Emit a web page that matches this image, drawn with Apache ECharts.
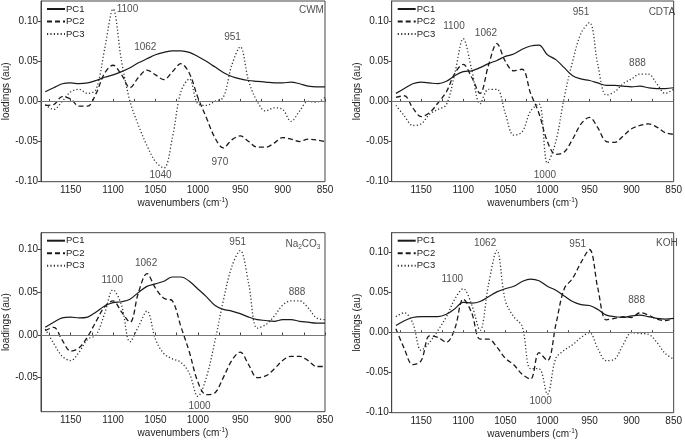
<!DOCTYPE html>
<html><head><meta charset="utf-8">
<script src="https://cdn.jsdelivr.net/npm/echarts@6/dist/echarts.min.js"></script>
<style>html,body{margin:0;padding:0;background:#fff}#c{width:685px;height:441px}</style>
</head><body><div id="c"></div><script>
const wavenumbers = [1180,1170,1160,1150,1140,1130,1120,1110,1100,1090,1080,1070,1060,1050,1040,1030,1020,1010,1000,990,980,970,960,950,940,930,920,910,900,890,880,870,860,850];
const xTickValues = [850,900,950,1000,1050,1100,1150];
const xMinorValues = [850,875,900,925,950,975,1000,1025,1050,1075,1100,1125,1150,1175];
const yTickValuesFull = [-0.10,-0.05,0,0.05,0.10];
const yTickValuesNa = [-0.05,0,0.05,0.10];
const seriesNames = ['PC1','PC2','PC3'];

// CWM
const cwmPC1 = [0.012,0.017,0.022,0.023,0.022,0.023,0.026,0.030,0.033,0.037,0.042,0.048,0.053,0.058,0.061,0.063,0.063,0.061,0.056,0.050,0.043,0.036,0.031,0.028,0.026,0.025,0.024,0.023,0.023,0.024,0.022,0.019,0.018,0.018];
const cwmPC2 = [-0.005,-0.004,0.006,0.003,-0.006,-0.006,0.010,0.035,0.045,0.033,0.017,0.030,0.039,0.033,0.027,0.037,0.047,0.035,0.005,-0.020,-0.045,-0.058,-0.048,-0.043,-0.050,-0.057,-0.057,-0.052,-0.045,-0.047,-0.050,-0.047,-0.048,-0.050];
const cwmPC3 = [-0.004,-0.010,0.000,0.012,0.015,0.010,0.015,0.065,0.115,0.050,0.000,-0.030,-0.055,-0.075,-0.083,-0.045,0.012,0.028,-0.003,-0.005,0.000,0.005,0.045,0.068,0.025,0.000,-0.012,-0.008,-0.010,-0.025,-0.012,0.000,-0.001,0.005];
const cwmNotes = [['1100',1083,0.115],['1062',1062,0.067],['951',959,0.0795],['1040',1044,-0.0923],['970',974,-0.0758],['CWM',866,0.1137]];

// CDTA
const cdtaPC1 = [0.010,0.016,0.022,0.024,0.023,0.022,0.025,0.032,0.037,0.038,0.042,0.047,0.051,0.056,0.059,0.065,0.069,0.070,0.058,0.052,0.042,0.032,0.028,0.026,0.023,0.020,0.020,0.019,0.018,0.019,0.017,0.016,0.016,0.017];
const cdtaPC2 = [0.005,0.007,-0.008,-0.019,-0.014,-0.002,0.012,0.035,0.046,0.030,0.010,0.045,0.072,0.050,0.038,0.040,0.010,-0.015,-0.050,-0.066,-0.063,-0.047,-0.028,-0.020,-0.033,-0.050,-0.051,-0.043,-0.034,-0.030,-0.028,-0.032,-0.039,-0.041];
const cdtaPC3 = [-0.005,-0.018,-0.030,-0.028,-0.016,-0.010,-0.004,0.035,0.078,0.040,-0.003,0.015,0.015,-0.015,-0.042,-0.038,-0.012,-0.003,-0.077,-0.050,0.005,0.050,0.085,0.098,0.045,0.008,0.012,0.022,0.028,0.034,0.034,0.022,0.010,0.015];
const cdtaNotes = [['1100',1111,0.094],['1062',1073,0.0845],['951',960,0.1106],['888',893,0.0472],['1000',1003,-0.0914],['CDTA',864,0.1114]];

// Na2CO3
const naPC1 = [0.009,0.015,0.020,0.021,0.020,0.021,0.027,0.034,0.038,0.039,0.042,0.050,0.057,0.060,0.063,0.068,0.068,0.063,0.054,0.045,0.035,0.030,0.028,0.025,0.021,0.018,0.017,0.016,0.018,0.018,0.016,0.015,0.014,0.014];
const naPC2 = [0.005,0.009,-0.006,-0.019,-0.015,-0.002,0.016,0.033,0.040,0.027,0.015,0.050,0.072,0.055,0.043,0.040,0.010,-0.020,-0.055,-0.070,-0.068,-0.050,-0.030,-0.020,-0.035,-0.050,-0.048,-0.040,-0.030,-0.025,-0.025,-0.030,-0.037,-0.037];
const naPC3 = [0.007,-0.010,-0.025,-0.030,-0.020,-0.005,0.000,0.025,0.053,0.035,-0.008,0.010,0.028,-0.005,-0.022,-0.028,-0.032,-0.045,-0.072,-0.050,-0.008,0.040,0.080,0.099,0.060,0.008,0.012,0.022,0.035,0.040,0.040,0.032,0.020,0.018];
const naNotes = [['1100',1101,0.0642],['1062',1061,0.0844],['951',953,0.1089],['888',883,0.0502],['1000',998,-0.0837],['Na{s|2}CO{s|3}',876,0.107]];

// KOH
const kohPC1 = [0.009,0.015,0.019,0.020,0.020,0.020,0.023,0.030,0.038,0.037,0.039,0.045,0.051,0.055,0.058,0.064,0.067,0.065,0.058,0.053,0.046,0.039,0.035,0.034,0.029,0.022,0.020,0.019,0.021,0.022,0.020,0.018,0.017,0.018];
const kohPC2 = [0.005,-0.020,-0.040,-0.035,-0.004,-0.006,-0.012,0.005,0.042,0.025,-0.008,-0.008,-0.018,-0.032,-0.040,-0.052,-0.058,-0.025,-0.035,0.010,0.055,0.068,0.088,0.104,0.055,0.016,0.018,0.020,0.019,0.025,0.022,0.017,0.015,0.018];
const kohPC3 = [0.020,0.025,0.012,-0.022,-0.012,0.003,0.020,0.042,0.055,0.035,0.003,0.060,0.103,0.040,0.020,0.008,-0.045,-0.045,-0.077,-0.032,-0.022,-0.015,-0.006,0.000,-0.020,-0.035,-0.033,-0.015,0.000,-0.001,-0.002,-0.012,-0.026,-0.033];
const kohNotes = [['1100',1113,0.067],['1062',1074,0.1124],['951',964,0.1104],['888',894,0.040],['1000',1008,-0.0861],['KOH',858,0.1124]];

const panels = [
  {pcs:[cwmPC1,cwmPC2,cwmPC3], notes:cwmNotes, ymin:-0.10, ymax:0.125, yticks:yTickValuesFull},
  {pcs:[cdtaPC1,cdtaPC2,cdtaPC3], notes:cdtaNotes, ymin:-0.10, ymax:0.125, yticks:yTickValuesFull},
  {pcs:[naPC1,naPC2,naPC3], notes:naNotes, ymin:-0.09, ymax:0.12, yticks:yTickValuesNa},
  {pcs:[kohPC1,kohPC2,kohPC3], notes:kohNotes, ymin:-0.10, ymax:0.125, yticks:yTickValuesFull}
];

const gridPos = [
  {left:41, top:1, width:284, height:180.7},
  {left:391.7, top:1, width:284.3, height:180.7},
  {left:41, top:232.7, width:284, height:179},
  {left:391.7, top:232.7, width:284.3, height:180}
];
const FONT = 'Liberation Sans, Arial, sans-serif';
const TXT = '#222';
const lineStyles = [
  {color:'#1a1a1a', width:1.2, type:'solid'},
  {color:'#1a1a1a', width:1.3, type:[5,3]},
  {color:'#333', width:1.3, type:[1.2,2.2]}
];

const grid = [], xAxis = [], yAxis = [], series = [], legend = [];
panels.forEach((p, i) => {
  const g = gridPos[i];
  grid.push(Object.assign({show:true, borderColor:'#444', borderWidth:1, backgroundColor:'transparent'}, g));
  xAxis.push({
    type:'value', gridIndex:i, inverse:true, min:850, max:1185,
    name:'wavenumbers (cm{sup|-1})', nameLocation:'middle', nameGap:14,
    nameTextStyle:{fontFamily:FONT, fontSize:10, color:TXT, rich:{sup:{fontFamily:FONT, fontSize:6.5, color:TXT, padding:[0,0,6,0]}}},
    axisLine:{show:true, lineStyle:{color:'#444', width:1}},
    axisTick:{show:true, inside:true, length:2.5, customValues:xMinorValues, lineStyle:{color:'#444'}},
    axisLabel:{customValues:xTickValues, fontFamily:FONT, fontSize:10, color:TXT, margin:4, formatter:v => String(v)},
    splitLine:{show:false}
  });
  yAxis.push({
    type:'value', gridIndex:i, min:p.ymin, max:p.ymax,
    name:'loadings (au)', nameLocation:'middle', nameGap:29,
    nameTextStyle:{fontFamily:FONT, fontSize:10, color:TXT},
    axisLine:{show:true, lineStyle:{color:'#444', width:1}},
    axisTick:{show:true, inside:false, length:3, customValues:p.yticks, lineStyle:{color:'#444'}},
    axisLabel:{customValues:p.yticks, fontFamily:FONT, fontSize:10, color:TXT, margin:3, formatter:v => v.toFixed(2)},
    splitLine:{show:false}
  });
  p.pcs.forEach((arr, k) => {
    const s = {
      type:'line', name:seriesNames[k], xAxisIndex:i, yAxisIndex:i,
      data: wavenumbers.map((w, j) => [w, arr[j]]),
      symbol:'none', smooth:0.35, lineStyle:lineStyles[k], itemStyle:{color:lineStyles[k].color},
      silent:true, animation:false, z:3
    };
    if (k === 0) {
      s.markLine = {silent:true, symbol:'none', label:{show:false}, animation:false,
        lineStyle:{color:'#777', width:1, type:'solid'}, data:[{yAxis:0}]};
    }
    series.push(s);
  });
  series.push({
    type:'scatter', xAxisIndex:i, yAxisIndex:i, symbolSize:1, silent:true, animation:false, clip:false,
    itemStyle:{color:'rgba(0,0,0,0)'},
    data: p.notes.map(n => [n[1], n[2], n[0]]),
    label:{show:true, position:'inside', formatter:q => q.data[2], fontFamily:FONT, fontSize:10, color:TXT,
      rich:{s:{fontFamily:FONT, fontSize:6.5, color:TXT, padding:[6,0,0,0]}}},
    z:5
  });
  legend.push({
    orient:'vertical', left:g.left + 5, top:g.top + 3, padding:0, itemGap:2.5,
    itemWidth:18, itemHeight:7, data:seriesNames, selectedMode:false,
    itemStyle:{opacity:0, color:'rgba(0,0,0,0)', borderWidth:0},
    textStyle:{fontFamily:FONT, fontSize:9.5, color:TXT, padding:[0,0,0,-4]}
  });
});

const chart = echarts.init(document.getElementById('c'), null, {renderer:'canvas'});
chart.setOption({animation:false, backgroundColor:'#fff', grid, xAxis, yAxis, series, legend});
</script></body></html>
